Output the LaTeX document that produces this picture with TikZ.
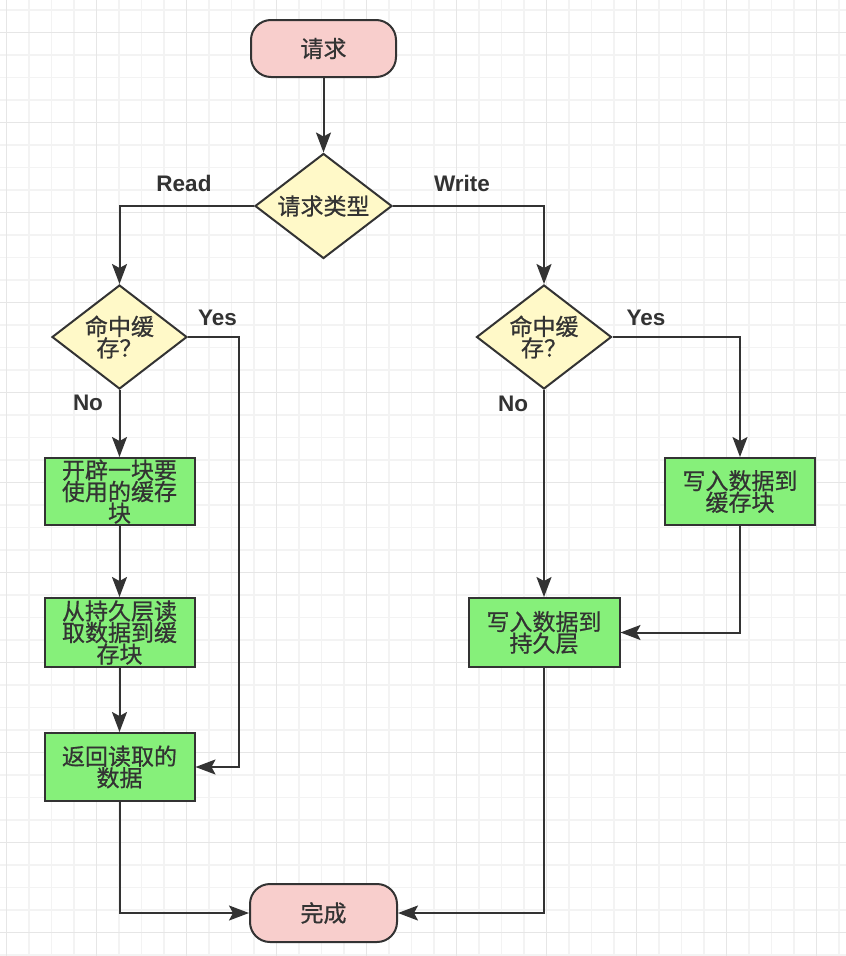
\documentclass[tikz,border=0pt]{standalone}
\usepackage{fontspec}
\setmainfont{Noto Sans CJK SC}
\newfontfamily\boxfont{Noto Sans CJK SC}[FakeBold=0.7]
\newfontfamily\labfont{Liberation Sans}
\usetikzlibrary{shapes.geometric,arrows.meta}

\definecolor{inkgray}{HTML}{333333}
\definecolor{termpink}{HTML}{F8CECC}
\definecolor{decyellow}{HTML}{FFF9C8}
\definecolor{procgreen}{HTML}{86F07A}
\definecolor{gridminor}{HTML}{F3F3F3}
\definecolor{gridmajor}{HTML}{E6E6E6}

\tikzset{
  nodetext/.style={font=\boxfont\fontsize{23pt}{21.5pt}\selectfont, text=inkgray, align=center, inner sep=0pt},
  terminal/.style={nodetext, draw=inkgray, line width=2pt, fill=termpink,
    rectangle, rounded corners=20pt, minimum width=145pt, minimum height=57pt},
  decision/.style={nodetext, draw=inkgray, line width=2pt, fill=decyellow,
    diamond, shape aspect=1.3, minimum width=135pt, minimum height=104pt},
  process/.style={nodetext, draw=inkgray, line width=2pt, fill=procgreen,
    rectangle, minimum width=150pt, minimum height=68pt},
  branchlabel/.style={font=\labfont\bfseries\fontsize{22.5pt}{24pt}\selectfont, text=inkgray, inner sep=0pt},
  flow/.style={draw=inkgray, line width=2pt,
    -{Stealth[length=20pt, width=15pt, inset=4pt]}},
}

\begin{document}
\begin{tikzpicture}[x=1pt, y=-1pt]
  % page and background grid
  \path[use as bounding box, fill=white] (0,0) rectangle (846,956);
  \foreach \i in {0,...,37}
    \draw[gridminor, line width=1.5pt] ({6.7+22.5*\i},0) -- ({6.7+22.5*\i},956);
  \foreach \j in {0,...,42}
    \draw[gridminor, line width=1.5pt] (0,{10.2+22.5*\j}) -- (846,{10.2+22.5*\j});
  \foreach \i in {0,...,9}
    \draw[gridmajor, line width=1.5pt] ({6.7+90*\i},0) -- ({6.7+90*\i},956);
  \foreach \j in {0,...,10}
    \draw[gridmajor, line width=1.5pt] (0,{32.7+90*\j}) -- (846,{32.7+90*\j});

  % nodes
  \node[terminal] (start) at (323.5,48.5) {请求};
  \node[decision, minimum width=137pt, minimum height=105pt] (kind) at (323.5,206) {请求类型};

  \node[decision] (hitR) at (119.5,337) {命中缓\\存？};
  \node[process, minimum height=67pt] (alloc) at (119.5,491.5) {开辟一块要\\使用的缓存\\块};
  \node[process, minimum height=69pt] (load) at (119.5,632.5) {从持久层读\\取数据到缓\\存块};
  \node[process] (ret) at (119.5,767) {返回读取的\\数据};

  \node[decision] (hitW) at (544,337) {命中缓\\存？};
  \node[process, minimum height=67pt] (wcache) at (740,491.5) {写入数据到\\缓存块};
  \node[process, minimum width=151pt, minimum height=69pt] (wstore) at (544,632.5) {写入数据到\\持久层};

  \node[terminal, minimum width=147pt, minimum height=58pt] (done) at (323.5,913) {完成};

  % branch labels
  \node[branchlabel] (lread) at (184,183) {Read};
  \node[branchlabel] (lwrite) at (462,183) {Write};
  \node[branchlabel] (lyesR) at (217.5,317.5) {Yes};
  \node[branchlabel] (lnoR) at (88,403) {No};
  \node[branchlabel] (lyesW) at (646,317.5) {Yes};
  \node[branchlabel] (lnoW) at (513,404) {No};

  \coordinate (hitbypass) at (239,767);

  % connectors
  \draw[flow] (start) -- (kind);
  \draw[flow] (kind.west) -| (hitR.north);
  \draw[flow] (kind.east) -| (hitW.north);

  \draw[flow] (hitR.south) -- (alloc.north);
  \draw[flow] (alloc) -- (load);
  \draw[flow] (load) -- (ret);
  \draw[flow] (hitR.east) -| (hitbypass) -- (ret.east);
  \draw[flow] (ret.south) |- (done.west);

  \draw[flow] (hitW.east) -| (wcache.north);
  \draw[flow] (hitW.south) -- (wstore.north);
  \draw[flow] (wcache.south) |- (wstore.east);
  \draw[flow] (wstore.south) |- (done.east);
\end{tikzpicture}
\end{document}
